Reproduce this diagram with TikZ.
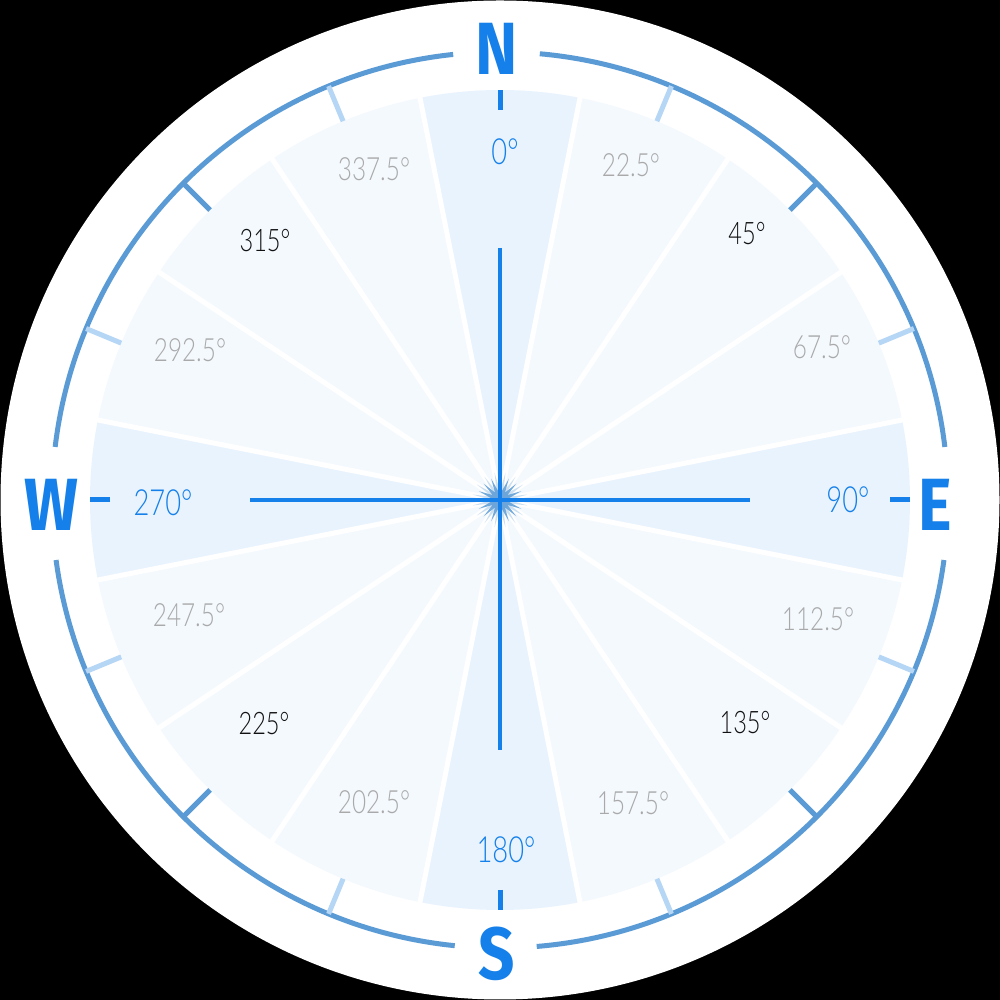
\documentclass[tikz,border=0pt]{standalone}
\usepackage{fontspec}
\usetikzlibrary{shapes.geometric}
\setmainfont{Lato}
\newfontfamily\thinfont{Lato Light}[FakeStretch=0.76]
\newfontfamily\letterfont{Fira Sans}[FakeStretch=0.86]
\definecolor{ringblue}{HTML}{5B9BD5}
\definecolor{lighttick}{HTML}{B6D6F6}
\definecolor{brightblue}{HTML}{1580EA}
\definecolor{cardfill}{HTML}{E8F3FE}
\definecolor{secfill}{HTML}{F4F9FE}
\definecolor{graytext}{HTML}{A9A9A9}
\definecolor{darktext}{HTML}{111111}
\tikzset{
  ring/.style={draw=ringblue, line width=5pt},
  majortick/.style={draw=ringblue, line width=5pt},
  minortick/.style={draw=lighttick, line width=5pt},
  cardtick/.style={draw=brightblue, line width=5pt},
  sepline/.style={draw=white, line width=5pt},
  crossline/.style={draw=brightblue, line width=4.5pt},
  cardlabel/.style={inner sep=0pt, text=brightblue, font=\thinfont\fontsize{36}{36}\selectfont},
  majorlabel/.style={inner sep=0pt, text=darktext, font=\thinfont\fontsize{31}{31}\selectfont},
  minorlabel/.style={inner sep=0pt, text=graytext, font=\thinfont\fontsize{32}{32}\selectfont},
  letter/.style={inner sep=0pt, text=brightblue, font=\letterfont\bfseries\fontsize{74}{74}\selectfont}
}
\begin{document}
\begin{tikzpicture}[x=1pt,y=1pt]
\useasboundingbox (0,0) rectangle (1000,1000);
\fill[black] (0,0) rectangle (1000,1000);
\coordinate (C) at (500,500);
\fill[white] (C) circle (499.5);
% sectors
\foreach \k in {0,...,15}{
  \pgfmathsetmacro\a{90-22.5*\k}
  \pgfmathtruncatemacro\m{mod(\k,4)}
  \ifnum\m=0 \def\sc{cardfill}\else\def\sc{secfill}\fi
  \fill[\sc] (C) -- ([shift={(\a-11.25:410)}]C) arc[start angle=\a-11.25, end angle=\a+11.25, radius=410] -- cycle;
}
% separators
\foreach \k in {0,...,15}{
  \pgfmathsetmacro\a{90-22.5*\k+11.25}
  \draw[sepline] (C) -- ([shift={(\a:412)}]C);
}
% outer ring with gaps
\draw[ring] ([shift={(6.8:448)}]C) arc[start angle=6.8, end angle=84.9, radius=448];
\draw[ring] ([shift={(96:448)}]C) arc[start angle=96, end angle=173.2, radius=448];
\draw[ring] ([shift={(187.7:448)}]C) arc[start angle=187.7, end angle=264.2, radius=448];
\draw[ring] ([shift={(274.7:448)}]C) arc[start angle=274.7, end angle=352.3, radius=448];
% ticks
\foreach \k in {1,2,3,5,6,7,9,10,11,13,14,15}{
  \pgfmathsetmacro\a{90-22.5*\k}
  \pgfmathtruncatemacro\m{mod(\k,2)}
  \ifnum\m=0 \def\tk{majortick}\else\def\tk{minortick}\fi
  \draw[\tk] ([shift={(\a:410)}]C) -- ([shift={(\a:448)}]C);
}
\foreach \a in {0,90,180,270}{
  \draw[cardtick] ([shift={(\a:390)}]C) -- ([shift={(\a:410)}]C);
}
% center star
\node[star, star points=16, star point ratio=3.2, minimum size=56pt, inner sep=0pt, fill=ringblue, fill opacity=0.3, rotate=11.25] (halo) at (C) {};
\node[star, star points=16, star point ratio=2.6, minimum size=46pt, inner sep=0pt, fill=ringblue, fill opacity=0.85] (burst) at (C) {};
% crosshair
\coordinate (ntop) at (500,752);
\coordinate (sbot) at (500,250);
\coordinate (wl) at (250,500);
\coordinate (er) at (750,500);
\draw[crossline] (ntop) -- (sbot);
\draw[crossline] (wl) -- (er);
% cardinal letters
\node[letter] (N) at (497,951.5) {N};
\node[letter] (E) at (935,495) {E};
\node[letter] (S) at (497,46) {S};
\node[letter] (W) at (51,495) {W};
% degree labels
\node[cardlabel] (d0) at (505,848) {0°};
\node[cardlabel] (d90) at (848,500) {90°};
\node[cardlabel] (d180) at (506,150) {180°};
\node[cardlabel] (d270) at (163,497) {270°};
\node[majorlabel] (d45) at (747,766) {45°};
\node[majorlabel] (d135) at (745,277) {135°};
\node[majorlabel] (d225) at (264,276) {225°};
\node[majorlabel] (d315) at (265,759) {315°};
\node[minorlabel] (d22) at (631,835) {22.5°};
\node[minorlabel] (d67) at (822,653) {67.5°};
\node[minorlabel] (d112) at (818,381) {112.5°};
\node[minorlabel] (d157) at (633,197) {157.5°};
\node[minorlabel] (d202) at (374,198) {202.5°};
\node[minorlabel] (d247) at (189,385) {247.5°};
\node[minorlabel] (d292) at (190,650) {292.5°};
\node[minorlabel] (d337) at (374,831) {337.5°};
\end{tikzpicture}
\end{document}
